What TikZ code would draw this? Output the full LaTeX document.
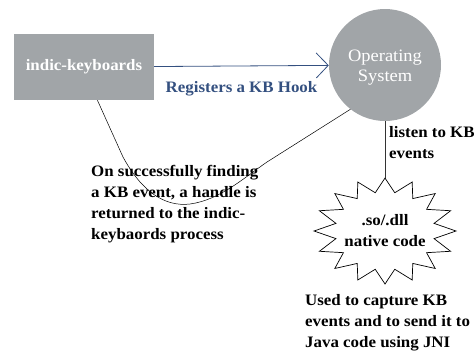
\documentclass[tikz,border=0pt]{standalone}
\usepackage{fontspec}
\setmainfont{Liberation Serif}
\usetikzlibrary{arrows.meta,positioning,calc}
\definecolor{procgray}{RGB}{161,165,168}
\definecolor{hookblue}{RGB}{52,80,128}

\begin{document}
\begin{tikzpicture}[x=1bp,y=-1bp,
    every node/.style={font=\fontsize{16}{21}\selectfont\bfseries\addfontfeatures{FakeStretch=1.06}},
    proc/.style={fill=procgray,text=white},
    note/.style={align=left,anchor=north west,inner sep=0pt}]

  \useasboundingbox (0,0) rectangle (474,358);

  % process box and the OS circle
  \node[proc,minimum width=140bp,minimum height=66bp] (kb) at (84,67) {indic-keyboards};
  \node[proc,circle,minimum size=112bp,
        label={[text=white,align=center,yshift=-3bp,
                font=\fontsize{17.5}{20}\selectfont\addfontfeatures{FakeStretch=1.06}]center:Operating\\System}]
    (os) at (385,65) {};

  % native code burst (16 spikes)
  \node[align=center,inner sep=0pt] (native) at (385,231) {.so/.dll\\native code};
  \coordinate (burst top) at ($(native)+(0,-53)$);
  \draw[line width=0.7bp] (burst top)
    \foreach \k in {1,...,31} {
      -- ($(native)+({(mod(\k,2)==0 ? 71 : 50)*sin(11.25*\k)},{-(mod(\k,2)==0 ? 53 : 39)*cos(11.25*\k)})$)
    } -- cycle;

  % hook registration
  \draw[-{Straight Barb[length=12bp,width=25bp]},hookblue,line width=0.8bp] (kb) -- (os)
    node[pos=0.5,below=12bp,text=hookblue] (hook) {Registers a KB Hook};

  % os listens via native code
  \draw[black!80,line width=0.8bp] (os.south) -- (os.south |- burst top);
  \node[note] (listen) at (389,126) {listen to KB\\events};

  % handle returned
  \draw[line width=0.5bp] (kb.-68) -- (123,157)
    .. controls (142,192) and (165,207) .. (190,204)
    .. controls (220,200) and (245,177) .. (267,162) -- (os.-128);
  \node[note] (handle) at (91,165)
    {On successfully finding\\a KB event, a handle is\\returned to the indic-\\keybaords process};

  \node[note] (capture) at (305,294)
    {Used to capture KB\\events and to send it to\\Java code using JNI};

\end{tikzpicture}
\end{document}
